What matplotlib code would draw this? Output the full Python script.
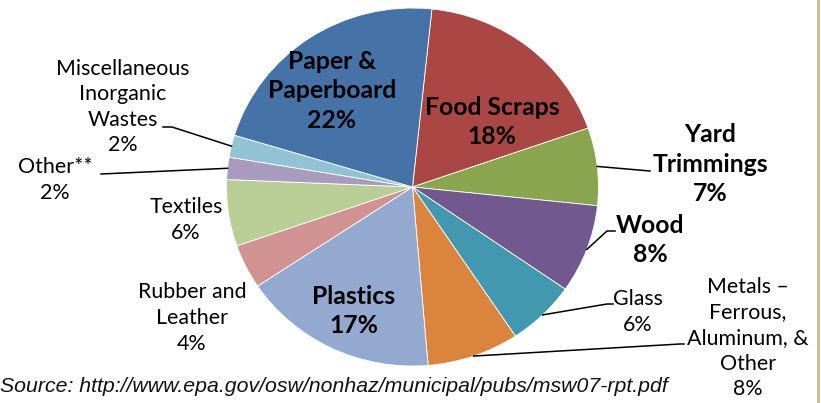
import numpy as np
import matplotlib.pyplot as plt

# MSW discards by material, 2007 (percent)
names = ["Food Scraps", "Yard\nTrimmings", "Wood", "Glass",
         "Metals –\nFerrous,\nAluminum, &\nOther", "Plastics",
         "Rubber and\nLeather", "Textiles", "Other**",
         "Miscellaneous\nInorganic\nWastes", "Paper &\nPaperboard"]
shares = [18, 7, 8, 6, 8, 17, 4, 6, 2, 2, 22]
colors = ["#AA4643", "#89A54E", "#71588F", "#4198AF", "#DB843D", "#93A9CF",
          "#D19392", "#B9CD96", "#A99BBD", "#92C3D5", "#4572A7"]
source = "Source: http://www.epa.gov/osw/nonhaz/municipal/pubs/msw07-rpt.pdf"

# label layout in pixel coords: (x, y, bold, leader points from pie edge outward)
layout = [
    (492, 122, True, None),
    (710, 164, True, [(650, 171)]),
    (650, 240, True, [(607, 231), (615, 231)]),
    (638, 312, False, [(607, 304), (613, 304)]),
    (748, 338, False, [(680, 344), (684, 344)]),
    (354, 311, True, None),
    (192, 318, False, None),
    (186, 220, False, None),
    (55, 180, False, [(101, 174)]),
    (123, 107, False, [(172, 127), (163, 127)]),
    (332, 91, True, None),
]

W, H = 821, 403
fig = plt.figure(figsize=(W / 100, H / 100), dpi=100)
ax = fig.add_axes([0, 0, 1, 1])
ax.set_xlim(0, W)
ax.set_ylim(H, 0)
ax.axis("off")
ax.set_zorder(2)

# pie box in pixels: x 226.5..598.5, y 8..366
px0, px1, py0, py1 = 226.5, 598.5, 8, 366
pax = fig.add_axes([px0 / W, 1 - py1 / H, (px1 - px0) / W, (py1 - py0) / H])
pax.set_zorder(1)
wedges, _ = pax.pie(shares, colors=colors, startangle=84, counterclock=False,
                    radius=1, wedgeprops=dict(edgecolor="white", linewidth=0.6))
pax.set_aspect("auto")
pax.set_xlim(-1, 1)
pax.set_ylim(-1, 1)
pax.axis("off")

fig.canvas.draw()
to_px = pax.transData + ax.transData.inverted()

font = "Lato"
for w, name, share, (lx, ly, bold, leader) in zip(wedges, names, shares, layout):
    ax.text(lx, ly, f"{name}\n{share}%", ha="center", va="center",
            fontsize=17.8 if bold else 15.4, fontweight="bold" if bold else "normal",
            family=font, linespacing=1.35, color="black")
    if leader:
        mid = np.deg2rad((w.theta1 + w.theta2) / 2)
        ex, ey = to_px.transform((np.cos(mid), np.sin(mid)))
        pts = [(ex, ey)] + leader
        ax.plot([p[0] for p in pts], [p[1] for p in pts], color="black", lw=1.1)

ax.text(0, 392, source, ha="left", va="baseline", fontsize=15.3,
        style="italic", family="Liberation Sans", color="#111111")

# frame edge on the right
ax.plot([818, 818], [0, H], color="#C8BE9E", lw=2.2)

fig.savefig("out.png", dpi=100)
